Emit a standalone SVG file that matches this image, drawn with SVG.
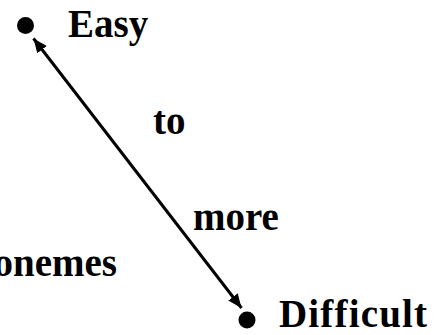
<svg xmlns="http://www.w3.org/2000/svg" width="440" height="335" viewBox="0 0 440 335">
<style>
.lbl{font-family:"Liberation Serif","Times New Roman",serif;font-weight:bold;font-size:39px;fill:#000;font-variant-ligatures:none}
.dot{fill:#000}
.conn{stroke:#000;stroke-width:3;fill:none}
</style>
<defs>
<marker id="ah" markerUnits="userSpaceOnUse" markerWidth="16" markerHeight="14" refX="14" refY="6" orient="auto-start-reverse">
<path d="M0,0 L14,6 L0,12 Z" fill="#000"/>
</marker>
</defs>
<rect width="440" height="335" fill="#fff"/>
<g id="easy">
<circle class="dot" cx="25.5" cy="25.5" r="8.5"/>
<text class="lbl" x="68" y="37">Easy</text>
</g>
<g id="difficult">
<circle class="dot" cx="247" cy="320" r="8.5"/>
<text class="lbl" x="279" y="327" textLength="148" lengthAdjust="spacing">Difficult</text>
</g>
<g id="labels">
<text class="lbl" x="153" y="134">to</text>
<text class="lbl" x="193" y="230">more</text>
<text class="lbl" x="117" y="276" text-anchor="end">onemes</text>
</g>
<g id="connectors">
<line class="conn" x1="33.5" y1="38.5" x2="241.5" y2="308" marker-start="url(#ah)" marker-end="url(#ah)"/>
</g>
</svg>
